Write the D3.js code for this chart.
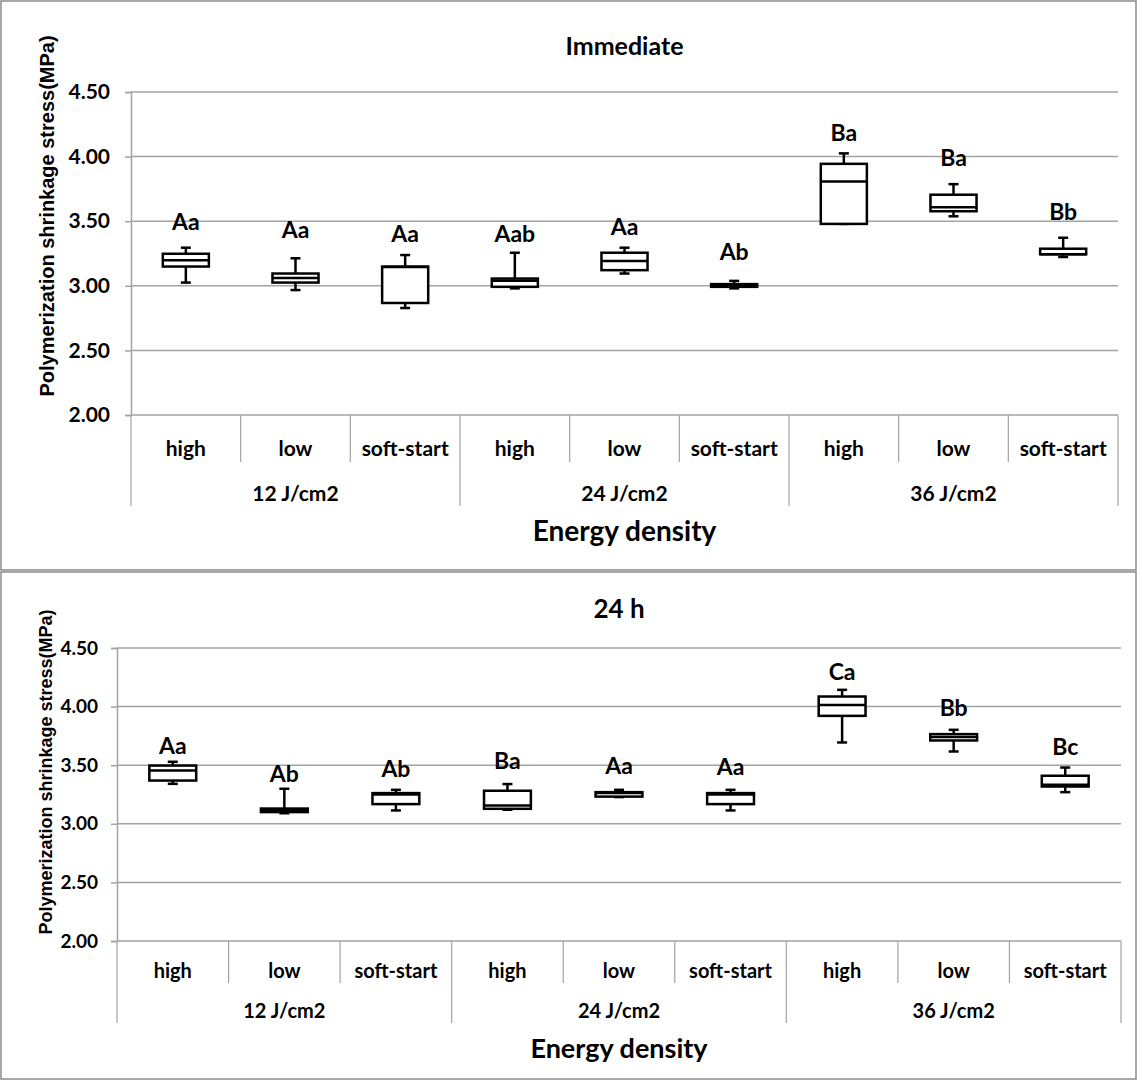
<!DOCTYPE html>
<html><head><meta charset="utf-8">
<script src="https://cdn.jsdelivr.net/npm/d3@7"></script>
<style>
body{margin:0;background:#fff}
svg text{font-family:Lato,"Open Sans",sans-serif;font-weight:bold;fill:#000}
</style>
</head><body>
<svg id="chart" width="1142" height="1083"></svg>
<script>
// ---------------- DATA ----------------
const groups = ["12 J/cm2", "24 J/cm2", "36 J/cm2"];
const modes = ["high", "low", "soft-start"];
const yTicks = [2.00, 2.50, 3.00, 3.50, 4.00, 4.50];

// Immediate panel (MPa)
const immMin    = [3.025, 2.967, 2.828, 2.980, 3.095, 2.980, 3.479, 3.538, 3.223];
const immQ1     = [3.149, 3.025, 2.867, 2.992, 3.121, 2.992, 3.479, 3.577, 3.244];
const immMedian = [3.198, 3.060, 3.145, 3.040, 3.192, 3.005, 3.808, 3.608, 3.244];
const immQ3     = [3.248, 3.095, 3.149, 3.056, 3.256, 3.013, 3.944, 3.705, 3.287];
const immMax    = [3.295, 3.213, 3.238, 3.256, 3.295, 3.038, 4.025, 3.787, 3.372];
const immLetters = ["Aa", "Aa", "Aa", "Aab", "Aa", "Ab", "Ba", "Ba", "Bb"];
const immLetterAt = [3.50, 3.44, 3.41, 3.41, 3.46, 3.27, 4.19, 4.00, 3.58];

// 24 h panel (MPa)
const h24Min    = [3.341, 3.090, 3.114, 3.120, 3.228, 3.114, 3.694, 3.617, 3.270];
const h24Q1     = [3.369, 3.100, 3.168, 3.128, 3.232, 3.168, 3.921, 3.711, 3.318];
const h24Median = [3.455, 3.115, 3.250, 3.156, 3.262, 3.250, 4.013, 3.740, 3.333];
const h24Q3     = [3.497, 3.130, 3.262, 3.282, 3.270, 3.262, 4.086, 3.765, 3.410];
const h24Max    = [3.529, 3.299, 3.290, 3.339, 3.290, 3.290, 4.143, 3.802, 3.480];
const h24Letters = ["Aa", "Ab", "Ab", "Ba", "Aa", "Aa", "Ca", "Bb", "Bc"];
const h24LetterAt = [3.674, 3.435, 3.478, 3.546, 3.503, 3.489, 4.30, 4.00, 3.666];

const yTitle = "Polymerization  shrinkage stress(MPa)";
const xTitle = "Energy density";

// ---------------- LAYOUT ----------------
const svg = d3.select("#chart");
const categories = [];
groups.forEach(g => modes.forEach(m => categories.push({group: g, mode: m, key: g + "|" + m})));

function buildBoxes(mn, q1, md, q3, mx, letters, at) {
  return categories.map((c, i) => ({...c, min: mn[i], q1: q1[i], median: md[i], q3: q3[i], max: mx[i], letter: letters[i], letterAt: at[i]}));
}

const panels = [
  {title: "Immediate", data: buildBoxes(immMin, immQ1, immMedian, immQ3, immMax, immLetters, immLetterAt),
   frame: {x: 1, y: 1, w: 1135, h: 569},
   left: 131, right: 1118, top: 92, bottom: 415,
   titleY: 45, titleSize: 25, catY: 447, grpY: 492, catDepth: 47, grpDepth: 91,
   xTitleY: 530, xTitleSize: 28, yTitleX: 54, yTitleY: 216, yTitleSize: 20,
   tickGap: 21, tickSize: 21, catSize: 21, grpSize: 21, letterSize: 23},
  {title: "24 h", data: buildBoxes(h24Min, h24Q1, h24Median, h24Q3, h24Max, h24Letters, h24LetterAt),
   frame: {x: 1, y: 572, w: 1135, h: 507},
   left: 117, right: 1121, top: 648, bottom: 941,
   titleY: 608, titleSize: 26, catY: 970, grpY: 1010, catDepth: 42, grpDepth: 82,
   xTitleY: 1047, xTitleSize: 27, yTitleX: 52, yTitleY: 772, yTitleSize: 18,
   tickGap: 19, tickSize: 19, catSize: 20, grpSize: 20, letterSize: 23}
];

const gridColor = "#a3a3a3";

panels.forEach(p => {
  const g = svg.append("g");
  g.append("rect").attr("x", p.frame.x).attr("y", p.frame.y).attr("width", p.frame.w).attr("height", p.frame.h)
    .attr("fill", "#fff").attr("stroke", "#8a8a8a").attr("stroke-width", 1.5);

  const x = d3.scaleBand().domain(categories.map(c => c.key)).range([p.left, p.right]).paddingInner(0).paddingOuter(0);
  const y = d3.scaleLinear().domain([2, 4.5]).range([p.bottom, p.top]);
  const bw = x.bandwidth();
  const boxW = bw * 0.42;
  const capW = 10;

  // gridlines
  g.selectAll(".grid").data(yTicks).join("line")
    .attr("x1", p.left).attr("x2", p.right)
    .attr("y1", d => y(d)).attr("y2", d => y(d))
    .attr("stroke", gridColor).attr("stroke-width", 1.5);

  // y axis
  const yAxis = d3.axisLeft(y).tickValues(yTicks).tickFormat(d3.format(".2f")).tickSize(6).tickPadding(p.tickGap - 6);
  const ya = g.append("g").attr("transform", `translate(${p.left},0)`).call(yAxis);
  ya.select(".domain").attr("stroke", gridColor).attr("stroke-width", 1.5);
  ya.selectAll(".tick line").attr("stroke", gridColor).attr("stroke-width", 1.5);
  ya.selectAll(".tick text").style("font-size", p.tickSize + "px").attr("fill", "#000");

  // category separators (multi-level axis)
  const bounds = d3.range(categories.length + 1).map(i => i === categories.length ? p.right : x(categories[i].key));
  g.selectAll(".sep").data(bounds).join("line")
    .attr("x1", d => d).attr("x2", d => d)
    .attr("y1", p.bottom)
    .attr("y2", (d, i) => p.bottom + (i % 3 === 0 ? p.grpDepth : p.catDepth))
    .attr("stroke", gridColor).attr("stroke-width", 1.2);

  // category labels
  g.selectAll(".cat").data(categories).join("text")
    .attr("x", d => x(d.key) + bw / 2).attr("y", p.catY)
    .attr("text-anchor", "middle").attr("dominant-baseline", "central")
    .style("font-size", p.catSize + "px").text(d => d.mode);

  // group labels
  const gx = d3.scaleBand().domain(groups).range([p.left, p.right]);
  g.selectAll(".grp").data(groups).join("text")
    .attr("x", d => gx(d) + gx.bandwidth() / 2).attr("y", p.grpY)
    .attr("text-anchor", "middle").attr("dominant-baseline", "central")
    .style("font-size", p.grpSize + "px").text(d => d);

  // boxes
  const bx = g.selectAll(".box").data(p.data).join("g");
  bx.append("line")
    .attr("x1", d => x(d.key) + bw / 2).attr("x2", d => x(d.key) + bw / 2)
    .attr("y1", d => y(d.min)).attr("y2", d => y(d.max))
    .attr("stroke", "#000").attr("stroke-width", 2.5);
  bx.append("line")
    .attr("x1", d => x(d.key) + bw / 2 - capW / 2).attr("x2", d => x(d.key) + bw / 2 + capW / 2)
    .attr("y1", d => y(d.max)).attr("y2", d => y(d.max))
    .attr("stroke", "#000").attr("stroke-width", 2.5);
  bx.append("line")
    .attr("x1", d => x(d.key) + bw / 2 - capW / 2).attr("x2", d => x(d.key) + bw / 2 + capW / 2)
    .attr("y1", d => y(d.min)).attr("y2", d => y(d.min))
    .attr("stroke", "#000").attr("stroke-width", 2.5);
  bx.append("rect")
    .attr("x", d => x(d.key) + (bw - boxW) / 2).attr("width", boxW)
    .attr("y", d => y(d.q3)).attr("height", d => Math.max(0.5, y(d.q1) - y(d.q3)))
    .attr("fill", "#fff").attr("stroke", "#000").attr("stroke-width", 2.5);
  bx.append("line")
    .attr("x1", d => x(d.key) + (bw - boxW) / 2).attr("x2", d => x(d.key) + (bw + boxW) / 2)
    .attr("y1", d => y(d.median)).attr("y2", d => y(d.median))
    .attr("stroke", "#000").attr("stroke-width", 2.5);

  // significance letters
  g.selectAll(".letter").data(p.data).join("text")
    .attr("x", d => x(d.key) + bw / 2).attr("y", d => y(d.letterAt))
    .attr("text-anchor", "middle").attr("dominant-baseline", "central")
    .style("font-size", p.letterSize + "px").text(d => d.letter);

  // titles
  g.append("text").attr("x", (p.left + p.right) / 2).attr("y", p.titleY)
    .attr("text-anchor", "middle").attr("dominant-baseline", "central")
    .style("font-size", p.titleSize + "px").text(p.title);
  g.append("text").attr("x", (p.left + p.right) / 2).attr("y", p.xTitleY)
    .attr("text-anchor", "middle").attr("dominant-baseline", "central")
    .style("font-size", p.xTitleSize + "px").text(xTitle);
  g.append("text")
    .attr("transform", `translate(${p.yTitleX},${p.yTitleY}) rotate(-90)`)
    .attr("text-anchor", "middle")
    .style("font-family", "'Liberation Sans', Arial, sans-serif")
    .style("font-size", p.yTitleSize + "px").text(yTitle);
});
</script>
</body></html>
